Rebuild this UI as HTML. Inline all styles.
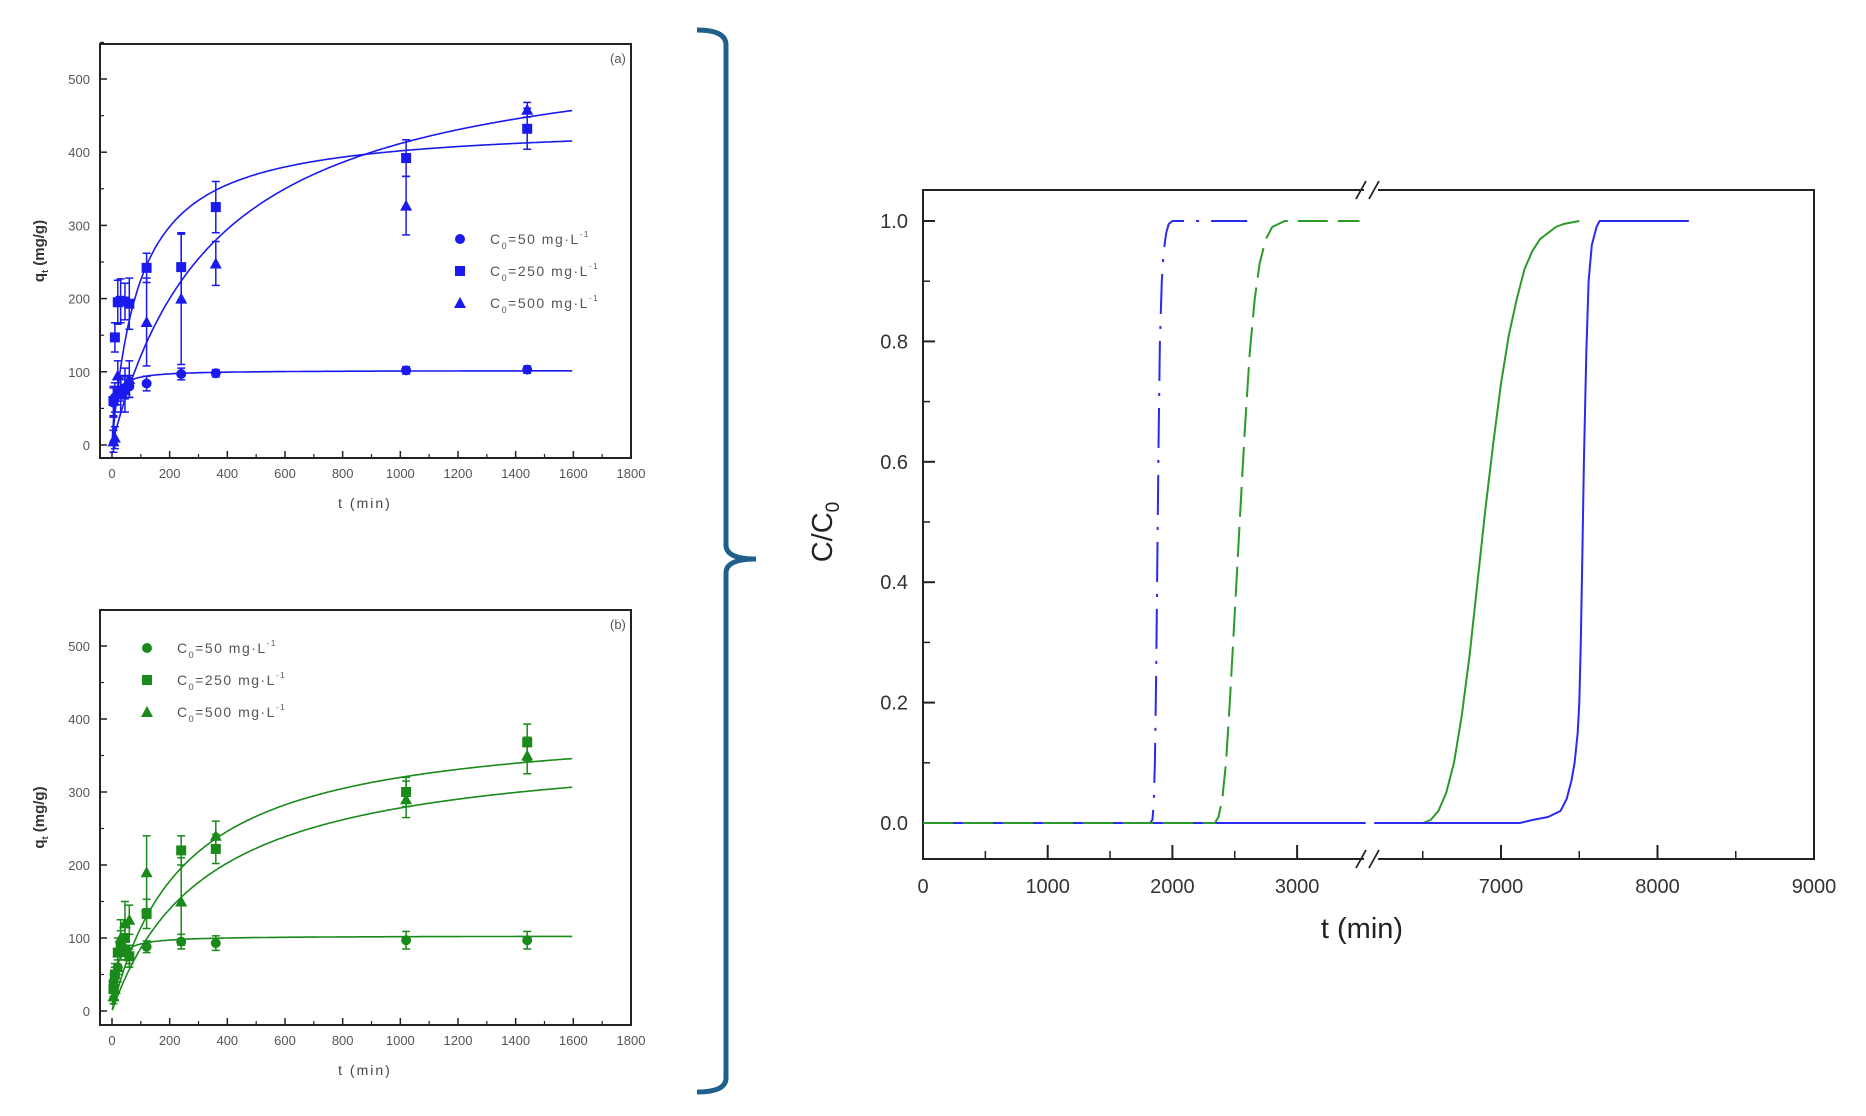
<!DOCTYPE html>
<html><head><meta charset="utf-8"><style>
body{margin:0;background:#fff;}
svg{display:block;font-family:"Liberation Sans",Arial,sans-serif;}
</style></head><body>
<svg id="fig" width="1866" height="1116" viewBox="0 0 1866 1116" xmlns="http://www.w3.org/2000/svg">
<path d="M697 30 Q726 30 726 45 L726 545 Q726 559 756 559 Q726 559 726 573 L726 1078 Q726 1092 697 1092" fill="none" stroke="#1f5f8b" stroke-width="5"/>
</svg>
<script>
// ---- kinetic panels data ----
var times=[5,10,20,30,45,60,120,240,360,1020,1440];
var aQ50=[58,65,70,75,78,80,84,97,98,102,103];
var aQ250=[60,147,195,197,196,193,242,243,325,392,432];
var aQ500=[5,10,95,70,75,90,168,200,248,327,458];
var aE50=[20,20,15,15,15,15,10,8,5,5,5];
var aE250=[20,20,30,30,25,35,20,45,35,25,28];
var aE500=[15,15,20,25,30,25,60,90,30,40,10];
var bQ50=[40,50,60,80,85,75,88,95,93,97,97];
var bQ250=[30,50,80,90,100,75,133,220,222,300,368];
var bQ500=[20,30,60,100,120,125,190,150,240,290,350];
var bE50=[10,10,10,10,10,10,8,10,10,12,12];
var bE250=[10,15,20,20,20,15,20,20,20,20,25];
var bE500=[10,15,20,25,30,20,50,60,20,25,25];
// fit parameters (qe, h) for q = qe*t/(t+h)
var aFitQe=[102,440,560], aFitH=[10,95,360];
var bFitQe=[103,400,370], bFitH=[12,250,330];
var xTicksSmall=[0,200,400,600,800,1000,1200,1400,1600,1800];
var yTicksSmall=[0,100,200,300,400,500];
// ---- breakthrough data ----
var yTicksBig=[0,0.2,0.4,0.6,0.8,1.0];
var xTicksLeft=[0,1000,2000,3000];
var xTicksRight=[7000,8000,9000];
var bt1T=[0,1820,1840,1850,1860,1870,1880,1890,1900,1915,1930,1950,1970,2000,2600];
var bt1V=[0,0,0.005,0.03,0.1,0.25,0.45,0.65,0.8,0.9,0.95,0.98,0.995,1,1];
var bt2T=[0,2340,2370,2400,2430,2460,2500,2540,2580,2620,2660,2700,2750,2800,2900,3500];
var bt2V=[0,0,0.01,0.04,0.1,0.2,0.35,0.5,0.65,0.78,0.87,0.93,0.97,0.99,1,1];
var bt3T=[6500,6550,6600,6650,6700,6750,6800,6850,6900,6950,7000,7050,7100,7150,7200,7250,7300,7350,7400,7500];
var bt3V=[0,0.005,0.02,0.05,0.1,0.18,0.28,0.4,0.52,0.63,0.73,0.81,0.87,0.92,0.95,0.97,0.98,0.99,0.995,1];
var bt4T=[6190,7120,7200,7300,7380,7420,7450,7470,7490,7500,7510,7520,7530,7545,7560,7580,7610,7630,8200];
var bt4V=[0,0,0.005,0.01,0.02,0.04,0.07,0.1,0.15,0.2,0.3,0.45,0.6,0.78,0.9,0.96,0.99,1,1];

var NS="http://www.w3.org/2000/svg";
var svg=document.getElementById('fig');
function mk(tag,attrs,parent){var e=document.createElementNS(NS,tag);for(var k in attrs)e.setAttribute(k,attrs[k]);(parent||svg).appendChild(e);return e;}

function panel(cfg){
  var g=mk('g',{});
  
  
  var X=function(t){return 112+(t/1800)*519;};
  var Y=function(q){return cfg.y0-(q/500)*(cfg.y0-cfg.y500);};
  var fr=mk('rect',{x:100,y:cfg.top,width:531,height:cfg.bot-cfg.top,fill:'none',stroke:'#222','stroke-width':2},g);
  
  
  xTicksSmall.forEach(function(v){
    mk('line',{x1:X(v),x2:X(v),y1:cfg.bot,y2:cfg.bot-7,stroke:'#222','stroke-width':1.5},g);
    if(v<1800) mk('line',{x1:X(v+100),x2:X(v+100),y1:cfg.bot,y2:cfg.bot-4,stroke:'#222','stroke-width':1.2},g);
    var t=mk('text',{x:X(v),y:cfg.bot+20,'font-size':13,fill:'#555','text-anchor':'middle'},g);t.textContent=v;
    
    
  });
  yTicksSmall.forEach(function(v){
    mk('line',{x1:100,x2:107,y1:Y(v),y2:Y(v),stroke:'#222','stroke-width':1.5},g);
    mk('line',{x1:100,x2:104,y1:Y(v+50),y2:Y(v+50),stroke:'#222','stroke-width':1.2},g);
    var t=mk('text',{x:90,y:Y(v)+5,'font-size':13,fill:'#555','text-anchor':'end'},g);t.textContent=v;
    
    
  });
  var yt=mk('text',{transform:'translate(44,'+((cfg.top+cfg.bot)/2)+') rotate(-90)','font-size':15,'font-weight':'bold',fill:'#333','text-anchor':'middle'},g);
  yt.innerHTML='q<tspan font-size="9" dy="4">t</tspan><tspan dy="-4"> (mg/g)</tspan>';
  
  
  var xt=mk('text',{x:365,y:cfg.bot+50,'font-size':14,fill:'#444','text-anchor':'middle','letter-spacing':'2'},g);xt.textContent='t (min)';
  
  
  var lb=mk('text',{x:610,y:cfg.top+19,'font-size':13,fill:'#555'},g);lb.textContent=cfg.label;
  
  
  for(var s=0;s<3;s++){
    var d='';
    for(var t=1;t<=1600;t+=5){var q=cfg.qe[s]*t/(t+cfg.h[s]);d+=(t==1?'M':'L')+X(t).toFixed(1)+' '+Y(q).toFixed(1);}
    var p=mk('path',{d:d,fill:'none',stroke:cfg.color,'stroke-width':1.6},g);
    
    
  }
  var series=[cfg.q50,cfg.q250,cfg.q500];
  series.forEach(function(arr,s){
    arr.forEach(function(q,i){
      var cx=X(times[i]),cy=Y(q),e=cfg.errs[s][i]*(cfg.y0-cfg.y500)/500;
      mk('line',{x1:cx,x2:cx,y1:cy-e,y2:cy+e,stroke:cfg.color,'stroke-width':1.5},g);
      mk('line',{x1:cx-4,x2:cx+4,y1:cy-e,y2:cy-e,stroke:cfg.color,'stroke-width':1.5},g);
      mk('line',{x1:cx-4,x2:cx+4,y1:cy+e,y2:cy+e,stroke:cfg.color,'stroke-width':1.5},g);
      var m;
      if(s==0)m=mk('circle',{cx:cx,cy:cy,r:5,fill:cfg.color},g);
      else if(s==1)m=mk('rect',{x:cx-5,y:cy-5,width:10,height:10,fill:cfg.color},g);
      else m=mk('path',{d:'M'+cx+' '+(cy-6)+'L'+(cx+6)+' '+(cy+5)+'L'+(cx-6)+' '+(cy+5)+'Z',fill:cfg.color},g);
      
      
    });
  });
  var labels=['50','250','500'];
  labels.forEach(function(l,s){
    var ly=cfg.legY+s*32,lx=cfg.legX;
    var m;
    if(s==0)m=mk('circle',{cx:lx,cy:ly,r:5,fill:cfg.color},g);
    else if(s==1)m=mk('rect',{x:lx-5,y:ly-5,width:10,height:10,fill:cfg.color},g);
    else m=mk('path',{d:'M'+lx+' '+(ly-6)+'L'+(lx+6)+' '+(ly+5)+'L'+(lx-6)+' '+(ly+5)+'Z',fill:cfg.color},g);
    
    
    var t=mk('text',{x:lx+30,y:ly+5,'font-size':14,fill:'#555','letter-spacing':'1.5'},g);
    t.innerHTML='C<tspan font-size="9" dy="5">0</tspan><tspan dy="-5">='+l+' mg·L</tspan><tspan font-size="8" dy="-7">-1</tspan>';
    
    
  });
}
panel({name:'panel-a',label:'(a)',top:44,bot:458,y0:445,y500:79,color:'#1a1aee',q50:aQ50,q250:aQ250,q500:aQ500,errs:[aE50,aE250,aE500],qe:aFitQe,h:aFitH,names:['c50','c250','c500'],legX:460,legY:239});
panel({name:'panel-b',label:'(b)',top:610,bot:1025,y0:1011,y500:646,color:'#1a8a1a',q50:bQ50,q250:bQ250,q500:bQ500,errs:[bE50,bE250,bE500],qe:bFitQe,h:bFitH,names:['c50','c250','c500'],legX:147,legY:648});

(function(){
  var g=mk('g',{});
  
  
  var L=923,R=1814,T=190,B=859;
  function X(t){ if(t<=4000) return L+t*0.1247; return 1501+(t-7000)*0.1565; }
  function Y(v){ return 823-v*602; }
  var fr=mk('path',{d:'M1364 '+T+'H'+L+'V'+B+'H1364 M1378 '+T+'H'+R+'V'+B+'H1378',fill:'none',stroke:'#222','stroke-width':2},g);
  
  
  mk('path',{d:'M1356 '+(T+9)+'L1366 '+(T-9)+'M1369 '+(T+9)+'L1379 '+(T-9)+'M1356 '+(B+9)+'L1366 '+(B-9)+'M1369 '+(B+9)+'L1379 '+(B-9),stroke:'#222','stroke-width':1.8,fill:'none'},g);
  var xt=xTicksLeft.concat(xTicksRight);
  xt.forEach(function(v){
    mk('line',{x1:X(v),x2:X(v),y1:B,y2:B-14,stroke:'#222','stroke-width':2},g);
    if(v<9000&&(v<3000||v>=7000)) mk('line',{x1:X(v+500),x2:X(v+500),y1:B,y2:B-8,stroke:'#222','stroke-width':1.5},g);
    var t=mk('text',{x:X(v),y:B+34,'font-size':20,fill:'#333','text-anchor':'middle'},g);t.textContent=v;
    
    
  });
  mk('line',{x1:X(6500),x2:X(6500),y1:B,y2:B-8,stroke:'#222','stroke-width':1.5},g);
  yTicksBig.forEach(function(v){
    mk('line',{x1:L,x2:L+12,y1:Y(v),y2:Y(v),stroke:'#222','stroke-width':2},g);
    if(v<1) mk('line',{x1:L,x2:L+7,y1:Y(v+0.1),y2:Y(v+0.1),stroke:'#222','stroke-width':1.5},g);
    var t=mk('text',{x:L-15,y:Y(v)+7,'font-size':20,fill:'#333','text-anchor':'end'},g);t.textContent=v.toFixed(1);
    
    
  });
  var yl=mk('text',{transform:'translate(832,532) rotate(-90)','font-size':29,fill:'#222','text-anchor':'middle'},g);
  yl.innerHTML='C/C<tspan font-size="19" dy="7">0</tspan>';
  
  
  var xl=mk('text',{x:1362,y:938,'font-size':29,fill:'#222','text-anchor':'middle'},g);xl.textContent='t (min)';
  
  
  function line(ts,vs,color,dash,name){
    var d='';ts.forEach(function(t,i){d+=(i?'L':'M')+X(t).toFixed(1)+' '+Y(vs[i]).toFixed(1);});
    var p=mk('path',{d:d,fill:'none',stroke:color,'stroke-width':2,'stroke-dasharray':dash,'stroke-linejoin':'round'},g);
    
    
  }
  line([0,3550],[0,0],'#2a2af0','none','baseline-blue-left');
  line(bt1T,bt1V,'#2a2af0','40 12 3 12','breakthrough-blue-dashdot');
  line(bt2T,bt2V,'#2a9a2a','30 10','breakthrough-green-dashed');
  line(bt3T,bt3V,'#2a9a2a','none','breakthrough-green-solid');
  line(bt4T,bt4V,'#2a2af0','none','breakthrough-blue-solid');
})();
</script>
</body></html>
